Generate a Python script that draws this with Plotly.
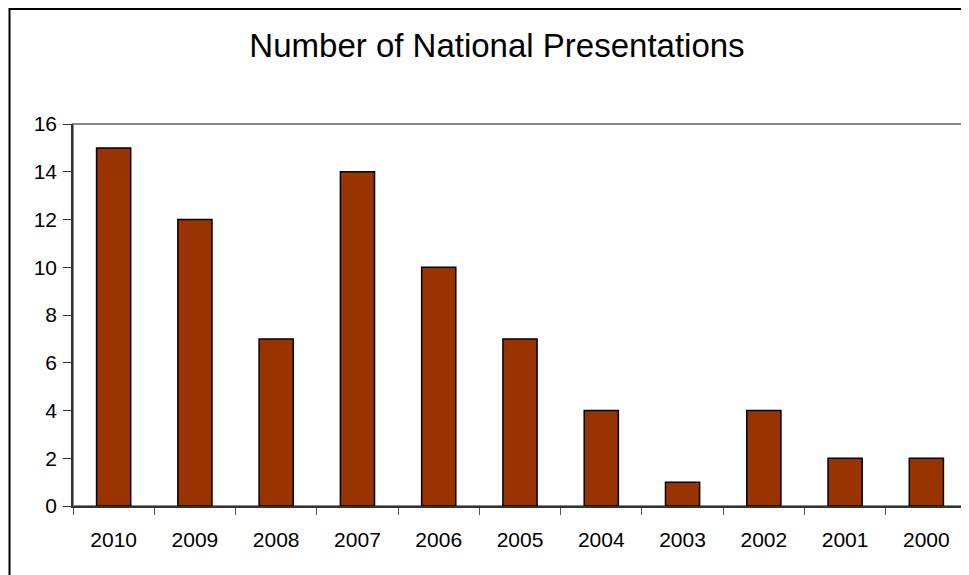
import plotly.graph_objects as go

years = ["2010", "2009", "2008", "2007", "2006", "2005", "2004", "2003", "2002", "2001", "2000"]
counts = [15, 12, 7, 14, 10, 7, 4, 1, 4, 2, 2]
title_text = "Number of National Presentations"

# page body has an 8px margin, so the figure is offset by 8px
W, H = 961, 567
L, R, T, B = 65, 2, 116, 69
pw, ph = W - L - R, H - T - B

fig = go.Figure()
fig.add_trace(go.Bar(
    x=years, y=counts,
    marker=dict(color="#993300", line=dict(color="#000000", width=1.5)),
    width=0.42,
))

fig.update_layout(
    width=W, height=H,
    margin=dict(l=L, r=R, t=T, b=B),
    paper_bgcolor="white", plot_bgcolor="white",
    font=dict(family="Liberation Sans, Arial, sans-serif", color="#000000"),
    title=dict(text=title_text, x=(497 - 8 - L) / pw, xref="paper", xanchor="center",
               y=1 - 37 / H, yanchor="middle", font=dict(size=33)),
    showlegend=False,
    xaxis=dict(
        type="category", tickson="boundaries", ticks="outside", ticklen=7,
        tickcolor="#555555", showline=True, linecolor="#333333", linewidth=1.5,
        showgrid=False, tickfont=dict(size=21), ticklabelstandoff=14,
    ),
    yaxis=dict(
        range=[0, 16], dtick=2, ticks="outside", ticklen=8, tickcolor="#333333",
        showline=True, linecolor="#333333", linewidth=1.5, showgrid=False,
        zeroline=False, tickfont=dict(size=21), ticklabelstandoff=2,
    ),
    shapes=[
        dict(type="rect", xref="paper", yref="paper", x0=0, x1=1, y0=0, y1=1,
             line=dict(color="#888888", width=2), layer="below"),
        dict(type="rect", xref="paper", yref="paper",
             x0=(1.5 - L) / pw, x1=(W - 1 - L) / pw,
             y0=-(620 - (H - B)) / ph,
             y1=1 + (T - 1) / ph,
             line=dict(color="#000000", width=2), layer="below"),
    ],
)

fig.write_html("out.html")
